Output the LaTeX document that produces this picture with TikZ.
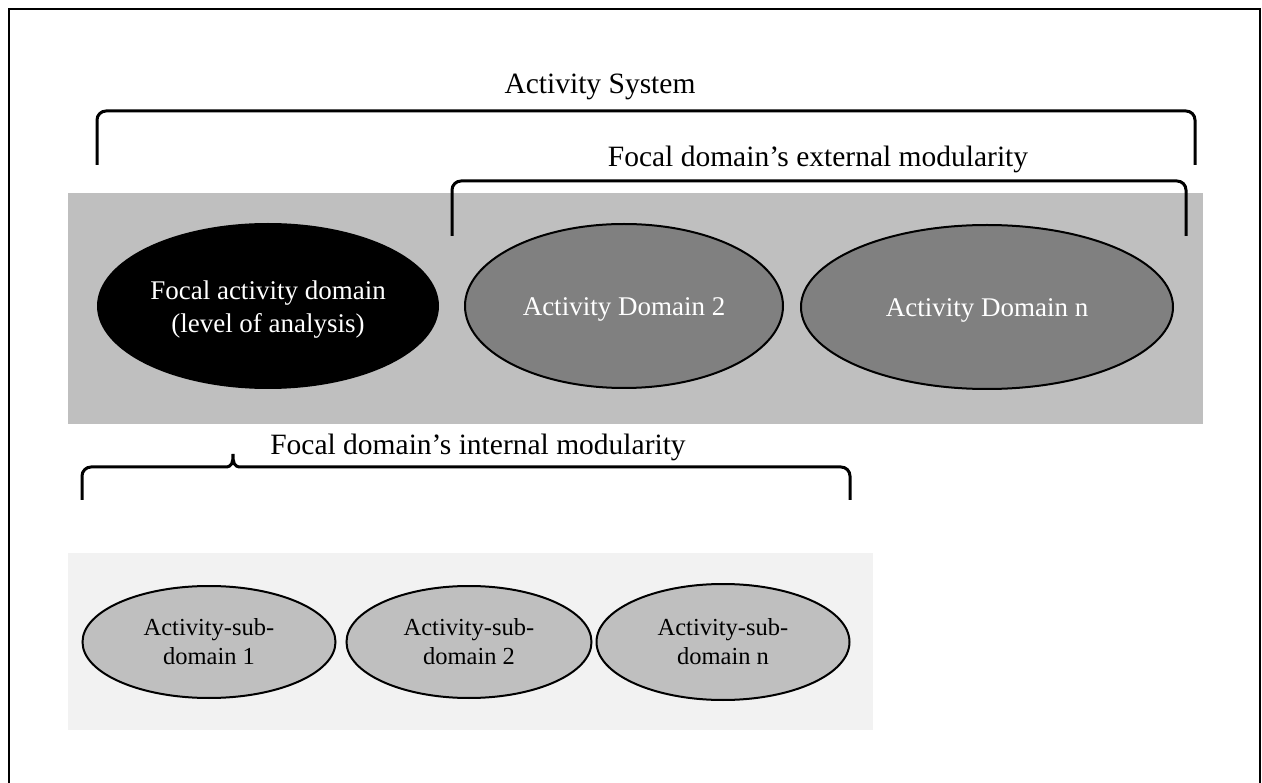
\documentclass[tikz,border=0pt]{standalone}
\usepackage{fontspec}
\setmainfont{Liberation Serif}
\usetikzlibrary{shapes.geometric}
\definecolor{midgray}{HTML}{BFBFBF}
\definecolor{darkgray2}{HTML}{808080}
\definecolor{lightgray2}{HTML}{F2F2F2}
\tikzset{
  bracepath/.style={line width=3pt, rounded corners=9pt},
  bigell/.style={ellipse, inner sep=0pt},
  bigtext/.style={align=center, text=white, inner sep=0pt, font=\fontsize{27}{33}\selectfont},
  subell/.style={ellipse, draw=black, line width=2pt, fill=midgray, inner sep=0pt, align=center, font=\fontsize{24.5}{29}\selectfont},
  lbl/.style={font=\fontsize{29.5}{34}\selectfont, inner sep=0pt, anchor=base},
}
\begin{document}
\begin{tikzpicture}[x=1pt,y=-1pt]
\useasboundingbox (0,0) rectangle (1262,783);
% outer frame
\draw[line width=2.5pt] (9,790) -- (9,9) -- (1260,9) -- (1260,790);
% backgrounds
\fill[midgray] (68,193) rectangle (1203,424);
\fill[lightgray2] (68,553) rectangle (873,730);
% top ellipses
\node[bigell, fill=black, minimum width=342pt, minimum height=166pt,
  label={[bigtext, yshift=-4pt]center:Focal activity domain\\(level of analysis)}] (focal) at (268,306) {};
\node[bigell, fill=darkgray2, draw=black, line width=2pt, minimum width=318pt, minimum height=164pt,
  label={[bigtext, yshift=-3pt]center:Activity Domain 2}] (d2) at (624,306) {};
\node[bigell, fill=darkgray2, draw=black, line width=2pt, minimum width=372pt, minimum height=164pt,
  label={[bigtext, yshift=-3pt]center:Activity Domain n}] (dn) at (987,307) {};
% sub ellipses
\node[subell, minimum width=253pt, minimum height=112pt] (s1) at (209,642) {Activity-sub-\\domain 1};
\node[subell, minimum width=245pt, minimum height=112pt] (s2) at (469,642) {Activity-sub-\\domain 2};
\node[subell, minimum width=253pt, minimum height=116pt] (sn) at (723,642) {Activity-sub-\\domain n};
% labels
\node[lbl] (sys) at (600,94) {Activity System};
\node[lbl] (ext) at (818,167) {Focal domain’s external modularity};
\node[lbl] (int) at (478,455) {Focal domain’s internal modularity};
% braces
\draw[bracepath] (97,165) -- (97,111) -- (1195,111) -- (1195,165);
\draw[bracepath] (452,236) -- (452,181) -- (1186,181) -- (1186,236);
\draw[line width=3pt] (82,500) [rounded corners=9pt] -- (82,467) [sharp corners] -- (225,467)
  .. controls (232,467) and (233,463) .. (233,454)
  .. controls (233,463) and (234,467) .. (241,467)
  [rounded corners=9pt] -- (850,467) -- (850,500);
\end{tikzpicture}
\end{document}
